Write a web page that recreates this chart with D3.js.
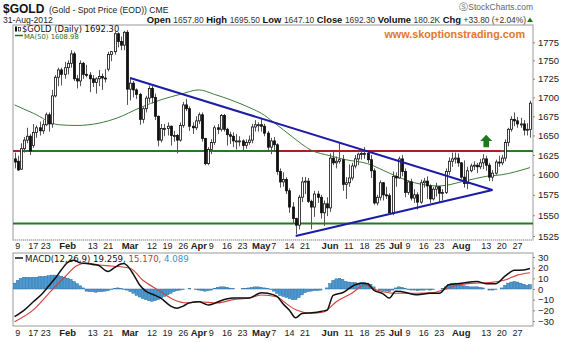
<!DOCTYPE html>
<html><head><meta charset="utf-8">
<script src="https://cdn.jsdelivr.net/npm/d3@7"></script>
<style>
html,body{margin:0;padding:0;background:#fff;}
svg{display:block;font-family:"Liberation Sans",Arial,sans-serif;}
</style></head><body>
<svg id="chart" width="570" height="342"></svg>
<script>
// ---- calendar: trading sessions shown on the chart ----
const firstDay = "2012-01-06", lastDay = "2012-08-31";
const holidays = ["2012-01-16","2012-02-20","2012-04-06","2012-05-28","2012-07-04"];

// ---- daily OHLC, one entry per session ----
const opens = [
1620,1617,1607,1633,1644,1649,1637,1654,1660,1656, 1664,1677,1665,1702,1727,1737,1731,1740,1746,1759,
1725,1722,1746,1731,1730,1725,1720,1725,1728,1726, 1738,1758,1762,1787,1776,1771,1789,1711,1719,1710,
1704,1671,1685,1699,1712,1700,1675,1644,1659,1659, 1662,1650,1650,1644,1663,1690,1685,1662,1660,1669,
1677,1646,1614,1632,1641,1660,1658,1676,1658,1651, 1649,1643,1643,1643,1637,1641,1644,1661,1664,1664,
1662,1653,1635,1643,1638,1604,1591,1594,1580,1560, 1546,1538,1572,1591,1592,1567,1560,1576,1572,1553,
1564,1559,1621,1615,1617,1619,1588,1590,1596,1611, 1620,1626,1627,1627,1619,1605,1565,1572,1590,1575,
1574,1553,1598,1596,1620,1604,1578,1591,1571,1575, 1566,1590,1592,1586,1570,1582,1585,1577,1578,1604,
1617,1620,1621,1615,1597,1589,1605,1611,1612,1610, 1615,1620,1612,1597,1602,1616,1615,1621,1641,1658,
1671,1669,1665,1665,1657,1657.8];
const highs = [
1628,1624,1640,1648,1660,1652,1665,1663,1668,1670, 1680,1680,1710,1730,1740,1740,1748,1750,1764,1762,
1730,1750,1748,1744,1734,1730,1727,1737,1732,1738, 1762,1763,1790,1789,1783,1791,1792,1727,1722,1712,
1706,1687,1702,1716,1715,1705,1676,1665,1665,1667, 1663,1656,1652,1667,1694,1698,1688,1667,1675,1680,
1680,1647,1635,1645,1663,1665,1678,1678,1660,1655, 1654,1652,1649,1645,1645,1650,1665,1670,1667,1673,
1665,1656,1647,1648,1640,1608,1603,1597,1583,1566, 1547,1575,1597,1597,1596,1569,1580,1580,1575,1568,
1572,1627,1630,1623,1641,1625,1597,1613,1615,1625, 1628,1632,1635,1630,1625,1608,1575,1593,1591,1585,
1577,1604,1603,1623,1625,1608,1593,1595,1582,1578, 1594,1596,1598,1588,1585,1590,1586,1582,1608,1622,
1628,1628,1627,1616,1618,1610,1614,1617,1615,1620, 1626,1624,1615,1606,1619,1624,1625,1645,1660,1675,
1680,1674,1673,1670,1666,1695.5];
const lows = [
1608,1605,1606,1628,1640,1625,1634,1647,1650,1652, 1662,1655,1660,1700,1715,1716,1725,1731,1740,1722,
1712,1715,1725,1727,1707,1714,1705,1715,1710,1720, 1735,1749,1758,1768,1764,1764,1690,1696,1700,1698,
1664,1666,1680,1693,1692,1670,1636,1641,1649,1650, 1637,1642,1627,1642,1660,1682,1656,1652,1657,1665,
1642,1612,1612,1626,1638,1652,1655,1655,1637,1639, 1635,1632,1636,1630,1633,1638,1640,1655,1655,1655,
1649,1630,1626,1629,1600,1584,1585,1576,1553,1540, 1527,1533,1566,1576,1565,1533,1548,1565,1546,1537,
1549,1554,1612,1608,1614,1580,1570,1585,1593,1608, 1612,1619,1620,1615,1596,1563,1562,1568,1568,1570,
1553,1550,1585,1595,1598,1572,1575,1568,1565,1557, 1564,1584,1570,1565,1568,1573,1565,1568,1576,1600,
1610,1614,1610,1595,1584,1582,1603,1606,1602,1607, 1607,1605,1592,1592,1600,1610,1612,1617,1636,1655,
1662,1660,1660,1650,1650,1647.1];
const closes = [
1616,1606,1633,1644,1649,1630,1654,1660,1656,1664, 1677,1665,1702,1727,1737,1731,1740,1746,1759,1725,
1722,1746,1731,1730,1725,1720,1725,1728,1726,1725, 1758,1762,1787,1776,1771,1789,1711,1719,1710,1704,
1671,1685,1699,1712,1700,1675,1644,1659,1659,1662, 1650,1650,1644,1663,1690,1685,1662,1660,1669,1677,
1646,1614,1632,1641,1660,1658,1676,1658,1651,1649, 1643,1643,1643,1637,1641,1644,1661,1664,1664,1662,
1653,1635,1643,1638,1604,1591,1594,1580,1560,1546, 1538,1572,1591,1592,1567,1560,1576,1572,1553,1564,
1559,1621,1615,1617,1619,1588,1590,1596,1611,1620, 1626,1627,1627,1619,1605,1565,1572,1590,1575,1574,
1553,1598,1596,1620,1604,1578,1591,1571,1575,1566, 1590,1592,1586,1570,1582,1585,1577,1578,1604,1617,
1620,1621,1615,1597,1589,1605,1611,1612,1610,1615, 1620,1612,1597,1602,1616,1615,1621,1641,1658,1671,
1669,1665,1665,1657,1658,1692.3];

// ---- 50-day moving average, read at these sessions ----
const maDates = ["2012-01-06","2012-01-17","2012-01-27","2012-02-06","2012-02-15","2012-02-24","2012-03-06",
 "2012-03-15","2012-03-23","2012-04-02","2012-04-10","2012-04-17","2012-04-26","2012-05-01","2012-05-07",
 "2012-05-15","2012-05-23","2012-06-01","2012-06-08","2012-06-19","2012-06-28","2012-07-11","2012-07-23",
 "2012-08-02","2012-08-13","2012-08-20","2012-08-31"];
const maValues = [1690,1679,1664,1663,1666,1673,1686,1697,1704,1710,1704,1697,1685,1679,1667,
 1648,1631,1624,1619,1614,1602,1590,1586,1592,1598,1600,1608.98];

// ---- MACD(12,26,9) ----
const macdDates = ["2012-01-06","2012-01-11","2012-01-17","2012-01-20","2012-01-24","2012-01-26","2012-01-30",
 "2012-02-01","2012-02-03","2012-02-07","2012-02-09","2012-02-13","2012-02-15","2012-02-17","2012-02-21",
 "2012-02-23","2012-02-27","2012-02-28","2012-02-29","2012-03-02","2012-03-06","2012-03-08","2012-03-13",
 "2012-03-15","2012-03-20","2012-03-22","2012-03-26","2012-03-28","2012-04-02","2012-04-04","2012-04-05",
 "2012-04-10","2012-04-12","2012-04-18","2012-04-25","2012-05-01","2012-05-03","2012-05-08","2012-05-10",
 "2012-05-14","2012-05-16","2012-05-18","2012-05-24","2012-05-30","2012-05-31","2012-06-04","2012-06-07",
 "2012-06-13","2012-06-15","2012-06-19","2012-06-21","2012-06-26","2012-06-28","2012-07-02","2012-07-05",
 "2012-07-12","2012-07-18","2012-07-23","2012-07-26","2012-08-01","2012-08-08","2012-08-13","2012-08-16",
 "2012-08-21","2012-08-24","2012-08-29","2012-08-31"];
const macdValues = [-26,-20,-12,-4,3,10,18,25,27,24.5,24,23,22,17.5,16.5,20,23.5,24,22,14,4,-2,-6,-9,-16,-18,
 -16,-13,-12,-14,-15,-13.5,-11,-8.5,-8.5,-3.5,-4,-7,-14,-20,-27,-23,-22,-20.5,-20,-6,-3.5,4,5.5,5,-1,-4.5,
 -8.5,-2,-2.5,-5.5,-4,-4,4,5.3,7,5,5,12,17.5,17.8,19.259];
const signalDates = ["2012-01-06","2012-01-17","2012-01-24","2012-01-31","2012-02-06","2012-02-09","2012-02-15",
 "2012-02-22","2012-03-01","2012-03-07","2012-03-14","2012-03-21","2012-03-27","2012-04-02","2012-04-11",
 "2012-04-18","2012-04-25","2012-05-01","2012-05-08","2012-05-10","2012-05-16","2012-05-23","2012-05-30",
 "2012-06-05","2012-06-12","2012-06-18","2012-06-21","2012-06-26","2012-07-02","2012-07-12","2012-07-19",
 "2012-07-24","2012-07-31","2012-08-06","2012-08-14","2012-08-21","2012-08-27","2012-08-31"];
const signalValues = [-30.6,-19.6,-4,11,22,24.3,22.5,21.5,19.5,8.4,-1,-10,-13,-12,-13,-10,-8.5,-5.6,-7.2,
 -11.5,-19.5,-22.7,-21.5,-12,-4,3.7,0,-2.5,-4,-4,-3.4,-1,3.7,5.3,6,8.4,13,15.17];
const histValues = [
5.5,8,10,11,11,11,11,11,11.5,11.5, 12,12.5,13,13,12.5,12,11,10,9,7,
5,3,1,-2,-2.5,-2.5,-3,-2.5,-2.5,-2, -1.5,-0.5,0.5,1,0.5,-0.5,-1,-2.5,-4,-6,
-7.5,-9,-10,-11,-11.5,-11,-10,-8.5,-7,-5.5, -4,-2.5,-1.5,-1,-0.5,0,0.3,0,-0.5,-1,
-1.5,-2,-1.5,-1,0.5,1.5,2,2,1.5,0.8, 0.3,0,0,0.3,0.5,1,1.5,2,2,1.5,
1,0.5,-0.5,-2,-4,-6,-7,-8,-9,-10, -10,-8,-5.5,-3.5,-2.5,-2,-1.5,-1.5,-1,0,
1,5,8,9.5,10,9,7,6.5,6,6, 5.5,6,6,5.5,4.5,2,0,-1,-1.5,-2,
-2.5,-1,1,2,1.5,0.5,-0.5,-1,-1,-1.5, -1,-1,-0.5,-1,-0.5,0,0,0.5,2,4,
5,5.5,5,4.5,3,2.5,2,2,2,1.5, 1,0,-1,-1,-0.5,0,1,3.5,5.5,6.5,
7,6.5,5.5,4.5,3.5,4.089];

// ---- axis ticks ----
const priceTicks = [1525,1550,1575,1600,1625,1650,1675,1700,1725,1750,1775];
const macdTicks = [-30,-20,-10,0,10,20,30];
const dateTicks = ["2012-01-09","2012-01-17","2012-01-23","2012-02-01","2012-02-13","2012-02-21","2012-03-01",
 "2012-03-12","2012-03-19","2012-03-26","2012-04-02","2012-04-09","2012-04-16","2012-04-23","2012-05-01",
 "2012-05-07","2012-05-14","2012-05-21","2012-06-01","2012-06-11","2012-06-18","2012-06-25","2012-07-02",
 "2012-07-09","2012-07-16","2012-07-23","2012-08-01","2012-08-13","2012-08-20","2012-08-27"];
const dateTickLabels = ["9","17","23","Feb","13","21","Mar","12","19","26","Apr","9","16","23","May","7","14",
 "21","Jun","11","18","25","Jul","9","16","23","Aug","13","20","27"];

// ---- drawn annotations: trendlines and levels (date, price) ----
const triangleUpper = [["2012-03-01",1726],["2012-08-15",1581]];
const triangleLower = [["2012-05-16",1525],["2012-08-15",1581]];
const resistanceLevel = 1630, supportLevel = 1540;
const resistanceRed = ["2012-05-07","2012-08-20"];
const breakoutArrow = {date:"2012-08-13", base:1635, tip:1651};

// ---------------------------------------------------------------
const fmt = d3.utcFormat("%Y-%m-%d"), parse = d3.utcParse("%Y-%m-%d");
const days = d3.utcDays(parse(firstDay), d3.utcDay.offset(parse(lastDay), 1))
  .filter(d => d.getUTCDay() % 6 !== 0).map(fmt).filter(d => !holidays.includes(d));
const bars = days.map((d, i) => ({date:d, o:opens[i], h:highs[i], l:lows[i], c:closes[i], hist:histValues[i]}));

const L = 13, R = 533, mainTop = 25, mainBot = 240, macdTop = 253, macdBot = 326;
const svg = d3.select("#chart");

const x = d3.scaleBand().domain(days).range([L, 531.5]);
const cx = d => x(d) + x.bandwidth() / 2;
const y = d3.scaleLog().domain([1525, 1775]).range([236, 42.3]);
const ym = d3.scaleLinear().domain([-30, 30]).range([321, 257]);

const defs = svg.append("defs");
defs.append("clipPath").attr("id","clipMain").append("rect")
  .attr("x",L).attr("y",mainTop).attr("width",R-L).attr("height",mainBot-mainTop);
defs.append("clipPath").attr("id","clipMacd").append("rect")
  .attr("x",L).attr("y",macdTop).attr("width",R-L).attr("height",macdBot-macdTop);

// ---- header ----
const hdr = svg.append("g").attr("fill","#111");
hdr.append("text").attr("x",3).attr("y",13).attr("font-size",12).attr("font-weight","bold").text("$GOLD");
hdr.append("text").attr("x",49).attr("y",13).attr("font-size",8.6).attr("fill","#222")
  .text("(Gold - Spot Price (EOD)) CME");
hdr.append("text").attr("x",3).attr("y",23).attr("font-size",8.6).attr("fill","#222").text("31-Aug-2012");
svg.append("text").attr("x",533).attr("y",10).attr("text-anchor","end").attr("font-size",8.5)
  .attr("fill","#666").text("\u24C8StockCharts.com");
const quote = [["Open","1657.80"],["High","1695.50"],["Low","1647.10"],["Close","1692.30"],
  ["Volume","180.2K"],["Chg","+33.80 (+2.04%)"]];
const qt = svg.append("text").attr("x",526).attr("y",23).attr("text-anchor","end").attr("fill","#111");
quote.forEach(([k,v],i) => {
  qt.append("tspan").attr("font-size",9.4).attr("font-weight","bold").text((i ? "  " : "") + k + " ");
  qt.append("tspan").attr("font-size",8.4).attr("fill","#333").text(v);
});
svg.append("path").attr("d","M527,22 L533,22 L530,17.5 Z").attr("fill","#1f7a1f");

// ---- main panel frame ----
svg.append("rect").attr("x",L).attr("y",mainTop).attr("width",R-L).attr("height",mainBot-mainTop)
  .attr("fill","none").attr("stroke","#9a9a9a").attr("stroke-width",1);
svg.append("line").attr("x1",L).attr("x2",R).attr("y1",mainBot).attr("y2",mainBot)
  .attr("stroke","#fff").attr("stroke-width",1.2);
svg.append("line").attr("x1",L).attr("x2",R).attr("y1",mainBot).attr("y2",mainBot)
  .attr("stroke","#9a9a9a").attr("stroke-dasharray","1,1");

const main = svg.append("g").attr("clip-path","url(#clipMain)");

// horizontal levels
main.append("line").attr("x1",L).attr("x2",R).attr("y1",y(supportLevel)).attr("y2",y(supportLevel))
  .attr("stroke","#237a23").attr("stroke-width",2);
main.append("line").attr("x1",L).attr("x2",cx(resistanceRed[1])).attr("y1",y(resistanceLevel)).attr("y2",y(resistanceLevel))
  .attr("stroke","#b01f1f").attr("stroke-width",2);
main.append("line").attr("x1",L+6).attr("x2",cx(resistanceRed[0])).attr("y1",y(resistanceLevel)).attr("y2",y(resistanceLevel))
  .attr("stroke","#237a23").attr("stroke-width",2);
main.append("line").attr("x1",cx(resistanceRed[1])).attr("x2",R).attr("y1",y(resistanceLevel)).attr("y2",y(resistanceLevel))
  .attr("stroke","#237a23").attr("stroke-width",2);

// moving average
main.append("path").datum(maDates.map((d,i)=>[d,maValues[i]]))
  .attr("fill","none").attr("stroke","#3d7d3d").attr("stroke-width",1)
  .attr("d", d3.line().x(p=>cx(p[0])).y(p=>y(p[1])).curve(d3.curveMonotoneX));

// candlesticks
const cg = main.append("g");
cg.selectAll("line.wick").data(bars).join("line").attr("class","wick")
  .attr("x1",d=>Math.round(cx(d.date))+0.5).attr("x2",d=>Math.round(cx(d.date))+0.5)
  .attr("y1",d=>y(d.h)).attr("y2",d=>y(d.l)).attr("stroke","#555").attr("stroke-width",1);
cg.selectAll("rect.body").data(bars).join("rect").attr("class","body")
  .attr("x",d=>Math.round(cx(d.date))-0.5).attr("width",2)
  .attr("y",d=>y(Math.max(d.o,d.c))).attr("height",d=>Math.max(1,Math.abs(y(d.o)-y(d.c))))
  .attr("fill",d=>d.c>=d.o?"#fff":"#111").attr("stroke","#111").attr("stroke-width",0.8);

// triangle
const tri = d3.line().x(p=>cx(p[0])).y(p=>y(p[1]));
main.append("path").datum(triangleUpper).attr("d",tri).attr("stroke","#1c1ca8").attr("stroke-width",2).attr("fill","none");
main.append("path").datum(triangleLower).attr("d",tri).attr("stroke","#1c1ca8").attr("stroke-width",2).attr("fill","none");

// breakout arrow
{
  const ax = cx(breakoutArrow.date), yb = y(breakoutArrow.base), yt = y(breakoutArrow.tip);
  const yh = yt + (yb-yt)*0.5;
  main.append("path").attr("fill","#1d7a1d")
    .attr("d",`M${ax-2.8},${yb} L${ax-2.8},${yh} L${ax-6},${yh} L${ax},${yt} L${ax+6},${yh} L${ax+2.8},${yh} L${ax+2.8},${yb} Z`);
}

// watermark
svg.append("text").attr("x",525).attr("y",38).attr("text-anchor","end").attr("font-size",10.8)
  .attr("font-weight","bold").attr("fill","#e2782a").text("www.skoptionstrading.com");

// legend
const lg = svg.append("g").attr("font-family","'DejaVu Sans',Verdana,sans-serif");
lg.append("rect").attr("x",15).attr("y",27).attr("width",2).attr("height",4).attr("fill","#111");
lg.append("line").attr("x1",16).attr("x2",16).attr("y1",26).attr("y2",32).attr("stroke","#111");
lg.append("rect").attr("x",18.5).attr("y",27.5).attr("width",2).attr("height",3.5).attr("fill","#fff").attr("stroke","#111").attr("stroke-width",0.7);
lg.append("text").attr("x",22).attr("y",32).attr("font-size",8.4).attr("fill","#111").text("$GOLD (Daily) 1692.30");
lg.append("line").attr("x1",15).attr("x2",23).attr("y1",35.5).attr("y2",35.5).attr("stroke","#2b6e2b").attr("stroke-width",1.5);
lg.append("text").attr("x",24).attr("y",38.8).attr("font-size",6.8).attr("fill","#2b6e2b").text("MA(50) 1608.98");

// price axis
const ya = svg.append("g").attr("transform",`translate(${R},0)`)
  .call(d3.axisRight(y).tickValues(priceTicks).tickFormat(d3.format("d")).tickSize(2).tickPadding(3));
ya.select(".domain").remove();
ya.selectAll("line").attr("stroke","#888");
ya.selectAll("text").attr("font-size",9.5).attr("fill","#222").attr("font-family","'Liberation Sans',Arial,sans-serif");

// date axes
function dateAxis(yPos) {
  const g = svg.append("g").attr("transform",`translate(0,${yPos})`)
    .call(d3.axisBottom(x).tickValues(dateTicks).tickSize(0).tickPadding(2.5)
      .tickFormat(d => dateTickLabels[dateTicks.indexOf(d)]));
  g.select(".domain").remove();
  g.selectAll("text").attr("fill","#222")
    .attr("font-family","'Liberation Sans',Arial,sans-serif")
    .attr("font-weight",d => isNaN(+dateTickLabels[dateTicks.indexOf(d)]) ? "bold" : "normal")
    .attr("font-size",d => isNaN(+dateTickLabels[dateTicks.indexOf(d)]) ? 9.5 : 9);
}
dateAxis(mainBot);

// ---- MACD panel ----
svg.append("rect").attr("x",L).attr("y",macdTop).attr("width",R-L).attr("height",macdBot-macdTop)
  .attr("fill","none").attr("stroke","#9a9a9a");
const mg = svg.append("g").attr("clip-path","url(#clipMacd)");
mg.selectAll("rect.hist").data(bars).join("rect").attr("class","hist")
  .attr("x",d=>x(d.date)+0.2).attr("width",x.bandwidth()-0.4)
  .attr("y",d=>ym(Math.max(0,d.hist))).attr("height",d=>Math.abs(ym(d.hist)-ym(0)))
  .attr("fill","#4a9bd3").attr("stroke","#2b6a9e").attr("stroke-width",0.5);
mg.append("path").datum(signalDates.map((d,i)=>[d,signalValues[i]]))
  .attr("fill","none").attr("stroke","#d2413c").attr("stroke-width",1.1)
  .attr("d", d3.line().x(p=>cx(p[0])).y(p=>ym(p[1])).curve(d3.curveMonotoneX));
mg.append("path").datum(macdDates.map((d,i)=>[d,macdValues[i]]))
  .attr("fill","none").attr("stroke","#111").attr("stroke-width",1.5)
  .attr("d", d3.line().x(p=>cx(p[0])).y(p=>ym(p[1])).curve(d3.curveMonotoneX));

const mlg = svg.append("g").attr("font-family","'DejaVu Sans',Verdana,sans-serif").attr("font-size",8.6);
mlg.append("line").attr("x1",15).attr("x2",23).attr("y1",258).attr("y2",258).attr("stroke","#111").attr("stroke-width",1.5);
const mt = mlg.append("text").attr("x",25).attr("y",261.5);
mt.append("tspan").attr("fill","#111").text("MACD(12,26,9) 19.259, ");
mt.append("tspan").attr("fill","#c0392b").text("15.170, ");
mt.append("tspan").attr("fill","#3f8fb5").text("4.089");

const ma = svg.append("g").attr("transform",`translate(${R},0)`)
  .call(d3.axisRight(ym).tickValues(macdTicks).tickSize(2).tickPadding(3));
ma.select(".domain").remove();
ma.selectAll("line").attr("stroke","#888");
ma.selectAll("text").attr("font-size",9.5).attr("fill","#222").attr("font-family","'Liberation Sans',Arial,sans-serif");

dateAxis(macdBot + 1);
</script>
</body></html>
